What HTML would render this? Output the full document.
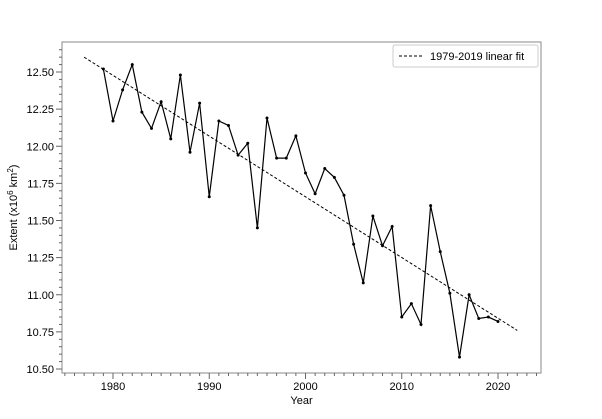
<!DOCTYPE html>
<html><head><meta charset="utf-8"><style>
body{margin:0;background:#fff;font-family:"Liberation Sans","DejaVu Sans",sans-serif}
</style></head><body>
<svg id="c" width="602" height="414" xmlns="http://www.w3.org/2000/svg" font-family="Liberation Sans, DejaVu Sans, sans-serif"></svg>
<script>
const years=[1979,1980,1981,1982,1983,1984,1985,1986,1987,1988,1989,1990,1991,1992,1993,1994,1995,1996,1997,1998,1999,2000,2001,2002,2003,2004,2005,2006,2007,2008,2009,2010,2011,2012,2013,2014,2015,2016,2017,2018,2019,2020];
const extent=[12.52,12.17,12.38,12.55,12.23,12.12,12.30,12.05,12.48,11.96,12.29,11.66,12.17,12.14,11.94,12.02,11.45,12.19,11.92,11.92,12.07,11.82,11.68,11.85,11.79,11.67,11.34,11.08,11.53,11.33,11.46,10.85,10.94,10.80,11.60,11.29,11.01,10.58,11.00,10.84,10.85,10.82];
const fitYears=[1977,2022];
const fitValues=[12.60,10.76];
const xTicks=[1980,1990,2000,2010,2020];
const yTicks=[10.50,10.75,11.00,11.25,11.50,11.75,12.00,12.25,12.50];
const L=62,R=541,T=42,B=373;
const X=v=>113+(v-1980)*9.625;
const Y=v=>72+(12.5-v)*148.5;
const svg=document.getElementById('c');
const NS='http://www.w3.org/2000/svg';
function mk(t,a,p){const e=document.createElementNS(NS,t);for(const k in a)e.setAttribute(k,a[k]);(p||svg).appendChild(e);return e;}
let e;
e=mk('rect',{x:L,y:T,width:R-L,height:B-T,fill:'none',stroke:'#888','stroke-width':1});


for(let yr=1975;yr<=2024;yr++){const big=yr%10==0;
 e=mk('line',{x1:X(yr),x2:X(yr),y1:B,y2:B+(big?6:3),stroke:'#666'});
 
 }
xTicks.forEach(v=>{e=mk('text',{x:X(v),y:B+17,'text-anchor':'middle','font-size':11});e.textContent=v;
 
 });
for(let v=10.5;v<=12.7;v+=0.05){const big=Math.abs(v*4-Math.round(v*4))<1e-6;
 e=mk('line',{x1:L-(big?6:3),x2:L,y1:Y(v),y2:Y(v),stroke:'#666'});
 
 }
yTicks.forEach(v=>{e=mk('text',{x:L-8,y:Y(v)+4,'text-anchor':'end','font-size':11});e.textContent=v.toFixed(2);
 
 });
e=mk('text',{x:(L+R)/2,y:404,'text-anchor':'middle','font-size':11});e.textContent='Year';


e=mk('text',{x:0,y:0,'text-anchor':'middle','font-size':11,transform:'translate(17,'+((T+B)/2)+') rotate(-90)'});
e.innerHTML='Extent (x10<tspan dy="-4" font-size="8">6</tspan><tspan dy="4"> km</tspan><tspan dy="-4" font-size="8">2</tspan><tspan dy="4">)</tspan>';


e=mk('line',{x1:X(fitYears[0]),y1:Y(fitValues[0]),x2:X(fitYears[1]),y2:Y(fitValues[1]),stroke:'#000','stroke-width':1,'stroke-dasharray':'3,2'});


e=mk('polyline',{points:years.map((y,i)=>X(y)+','+Y(extent[i])).join(' '),fill:'none',stroke:'#000','stroke-width':1.2});


years.forEach((y,i)=>{e=mk('circle',{cx:X(y),cy:Y(extent[i]),r:1.5,fill:'#000'});
 
 });
const g=mk('g',{});


mk('rect',{x:393,y:45,width:145,height:22,fill:'#fff',stroke:'#ccc',rx:2},g);
mk('line',{x1:399,x2:422,y1:56,y2:56,stroke:'#000','stroke-dasharray':'3,2'},g);
e=mk('text',{x:430,y:60,'font-size':11},g);e.textContent='1979-2019 linear fit';


</script>
</body></html>
